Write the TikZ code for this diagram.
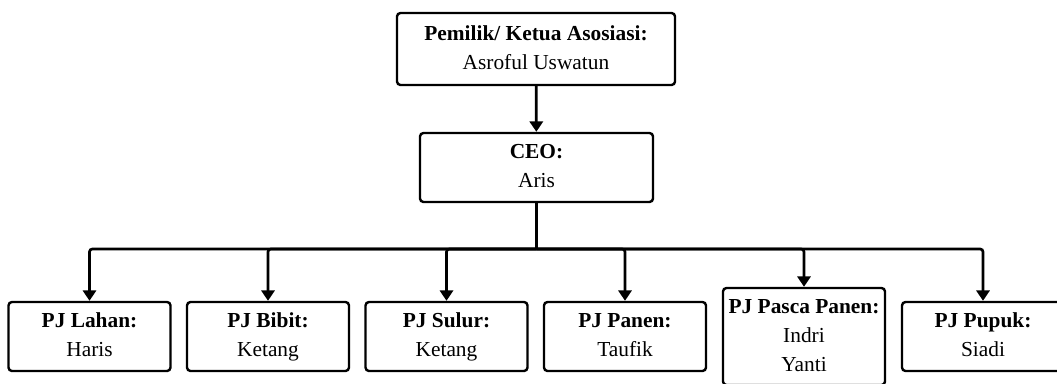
\documentclass[tikz,border=0pt]{standalone}
\usepackage{fontspec}
\setmainfont{Liberation Serif}
\usetikzlibrary{arrows.meta}
\begin{document}
\begin{tikzpicture}[
  x=0.025cm, y=-0.025cm,
  box/.style={draw, line width=1.7pt, rounded corners=2.5pt, align=center,
    inner sep=0pt, font=\fontsize{15.2}{20.6}\selectfont},
  pj/.style={box, minimum width=4.05cm, minimum height=1.725cm},
  link/.style={line width=1.9pt, -{Triangle[length=0.26cm, width=0.33cm]}},
]
  \useasboundingbox (0,0) rectangle (1057,383);
  % Top levels
  \node[box, minimum width=6.95cm, minimum height=1.8cm] (owner) at (536,49)
    {\strut\textbf{Pemilik/ Ketua Asosiasi:}\\Asroful Uswatun\strut};
  \node[box, minimum width=5.825cm, minimum height=1.725cm] (ceo) at (536.5,167.5)
    {\strut\textbf{CEO:}\\Aris\strut};
  \draw[link] (owner) -- (ceo);
  % PJ row
  \foreach \n/\x/\role/\who in {lahan/89.5/Lahan/Haris, bibit/268/Bibit/Ketang,
      sulur/446.5/Sulur/Ketang, panen/625/Panen/Taufik, pupuk/983/Pupuk/Siadi} {
    \node[pj] (\n) at (\x,336.5) {\strut\textbf{PJ \role:}\\\who\strut};
  }
  \node[pj, minimum height=2.425cm] (pasca) at (804,336.5)
    {\strut\textbf{PJ Pasca Panen:}\\Indri\\Yanti\strut};
  % Connectors
  \coordinate (bus) at (536.5,249);
  \draw[line width=1.9pt] (ceo) -- (bus);
  \foreach \n in {lahan, bibit, sulur, panen, pasca, pupuk} {
    \draw[link, rounded corners=2pt] (bus) -| (\n.north);
  }
\end{tikzpicture}
\end{document}
